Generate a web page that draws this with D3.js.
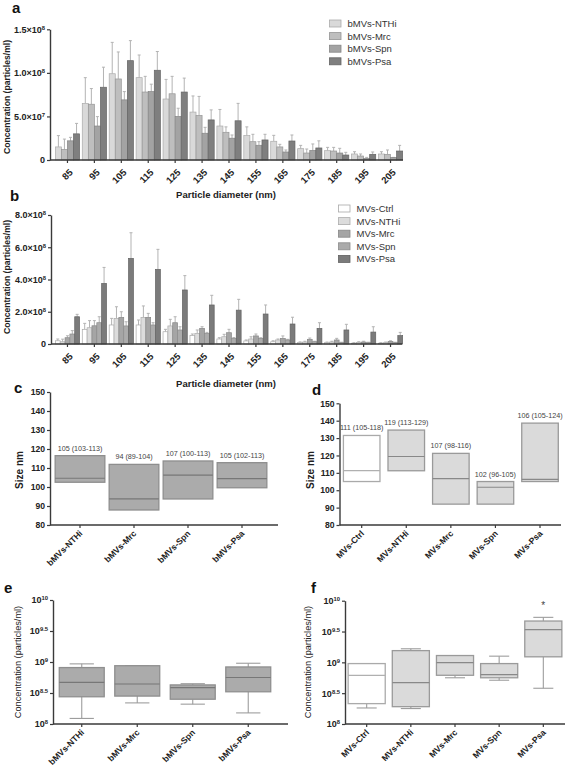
<!DOCTYPE html>
<html><head><meta charset="utf-8">
<script src="https://cdn.jsdelivr.net/npm/d3@7"></script>
<style>body{margin:0;background:#fff} text{font-family:"Liberation Sans",Arial,Helvetica,sans-serif}</style>
</head><body>
<svg id="chart" width="567" height="773"></svg>
<script>
// ---------- DATA ----------
const diameters = [85,95,105,115,125,135,145,155,165,175,185,195,205];

// panel a: bMVs concentration (x1e7 particles/ml), mean and SD
const aSeries = ["bMVs-NTHi","bMVs-Mrc","bMVs-Spn","bMVs-Psa"];
const aNTHi   = [1.5, 6.5, 9.9, 9.45, 7.0, 5.5, 3.9, 2.8, 2.15, 1.3, 1.07, 0.69, 0.69];
const aNTHiSD = [1.3, 2.95, 3.6, 2.6, 2.25, 1.85, 1.9, 1.0, 0.68, 0.38, 0.38, 0.26, 0.26];
const aMrc    = [1.2, 6.4, 9.3, 7.8, 7.6, 5.1, 3.18, 2.1, 1.5, 0.8, 1.03, 0.46, 0.65];
const aMrcSD  = [1.2, 1.8, 3.1, 1.8, 2.0, 2.2, 0.62, 0.85, 0.3, 0.46, 0.42, 0.23, 0.5];
const aSpn    = [2.2, 3.9, 6.9, 7.85, 5.0, 3.07, 2.5, 1.69, 0.92, 1.1, 0.8, 0.19, 0.3];
const aSpnSD  = [0.4, 1.08, 0.95, 0.85, 0.94, 0.68, 0.37, 0.41, 0.23, 0.74, 0.54, 0.11, 0];
const aPsa    = [3.0, 8.35, 11.4, 10.3, 7.8, 4.6, 4.5, 2.3, 2.18, 1.38, 0.57, 0.65, 1.03];
const aPsaSD  = [1.2, 2.3, 2.3, 2.15, 1.6, 1.15, 2.0, 0.65, 0.69, 0.82, 0.31, 0.27, 0.65];
const aYTicks = [0, 5e7, 1e8, 1.5e8];
const aYTickLabels = [["0",""],["5.0×10","7"],["1.0×10","8"],["1.5×10","8"]];

// panel b: MVs concentration (x1e7 particles/ml)
const bSeries = ["MVs-Ctrl","MVs-NTHi","MVs-Mrc","MVs-Spn","MVs-Psa"];
const bCtrl   = [2.0, 9.1, 11.8, 11.8, 7.6, 5.2, 3.1, 1.9, 1.4, 0.9, 0.8, 0.5, 0.5];
const bCtrlSD = [1.1, 3.7, 4.1, 3.1, 1.5, 1.0, 0.8, 0.6, 0.6, 0.4, 0.4, 0.3, 0.3];
const bNTHi   = [1.4, 10.1, 15.9, 16.5, 11.2, 6.6, 4.5, 3.1, 2.5, 1.2, 1.2, 1.0, 0.8];
const bNTHiSD = [1.6, 4.4, 7.2, 7.1, 4.1, 2.1, 1.5, 1.4, 0.6, 0.5, 0.5, 0.4, 0.4];
const bMrc    = [3.9, 11.3, 16.5, 16.5, 13.2, 9.7, 7.0, 5.0, 3.5, 2.9, 2.5, 1.2, 1.5];
const bMrcSD  = [1.2, 3.2, 3.5, 2.5, 3.7, 1.0, 2.1, 1.2, 1.5, 0.8, 1.0, 0.5, 0.5];
const bSpn    = [6.2, 13.2, 11.2, 11.8, 8.7, 6.6, 3.5, 3.5, 2.5, 1.4, 0.8, 0.8, 0.8];
const bSpnSD  = [2.1, 3.7, 2.6, 1.4, 2.0, 0.6, 0.5, 0.4, 0.4, 0.3, 0.3, 0.3, 0.3];
const bPsa    = [16.9, 37.6, 53.1, 46.3, 33.5, 24.2, 21.0, 18.6, 12.4, 9.7, 8.7, 7.4, 5.2];
const bPsaSD  = [1.5, 9.9, 15.9, 12.4, 8.9, 6.0, 6.7, 5.6, 4.2, 3.5, 3.5, 3.3, 2.0];
const bYTicks = [0, 2e8, 4e8, 6e8, 8e8];
const bYTickLabels = [["0",""],["2.0×10","8"],["4.0×10","8"],["6.0×10","8"],["8.0×10","8"]];

// panel c: size (nm) of bMVs, floating bars low/median/high
const cCats  = ["bMVs-NTHi","bMVs-Mrc","bMVs-Spn","bMVs-Psa"];
const cLow   = [102.5, 87.9, 93.7, 99.6];
const cMed   = [104.6, 93.7, 106.2, 104.4];
const cHigh  = [116.5, 111.9, 113.7, 112.8];
const cNotes = ["105 (103-113)","94 (89-104)","107 (100-113)","105 (102-113)"];

// panel d: size (nm) of MVs
const dCats  = ["MVs-Ctrl","MVs-NTHi","MVs-Mrc","MVs-Spn","MVs-Psa"];
const dLow   = [105, 111.2, 92, 92, 105];
const dMed   = [111.3, 119.4, 106.7, 101.7, 106.2];
const dHigh  = [131.5, 134.6, 121.2, 105, 138.6];
const dNotes = ["111 (105-118)","119 (113-129)","107 (98-116)","102 (96-105)","106 (105-124)"];
const sizeTicks = [80,90,100,110,120,130,140,150];

// panel e: concentration box plots bMVs
const eCats = ["bMVs-NTHi","bMVs-Mrc","bMVs-Spn","bMVs-Psa"];
const eMin  = [1.23e8, 2.19e8, 2.09e8, 1.51e8];
const eQ1   = [2.75e8, 2.82e8, 2.51e8, 3.31e8];
const eMed  = [4.68e8, 4.42e8, 3.85e8, 5.62e8];
const eQ3   = [8.13e8, 8.71e8, 4.27e8, 8.32e8];
const eMax  = [9.33e8, 8.71e8, 4.47e8, 9.55e8];

// panel f: concentration box plots MVs
const fCats = ["MVs-Ctrl","MVs-NTHi","MVs-Mrc","MVs-Spn","MVs-Psa"];
const fMin  = [1.82e8, 1.78e8, 5.62e8, 5.13e8, 3.80e8];
const fQ1   = [2.14e8, 1.91e8, 6.17e8, 5.62e8, 1.23e9];
const fMed  = [6.17e8, 4.68e8, 9.89e8, 6.31e8, 3.39e9];
const fQ3   = [9.55e8, 1.55e9, 1.29e9, 9.55e8, 4.68e9];
const fMax  = [9.55e8, 1.66e9, 1.29e9, 1.26e9, 5.37e9];
const fStar = {cat:"MVs-Psa", value:8.6e9, text:"*"};

const logTicks = [1e8, Math.pow(10,8.5), 1e9, Math.pow(10,9.5), 1e10];
const logTickLabels = [["10","8"],["10","8.5"],["10","9"],["10","9.5"],["10","10"]];

// ---------- DRAWING ----------
const svg = d3.select("#chart");
const AX = "#3a3a3a";

function styleAxis(g){
  g.attr("font-family",null).attr("font-size",null);
  g.select(".domain").attr("stroke",AX).attr("stroke-width",1.4);
  g.selectAll(".tick line").attr("stroke",AX).attr("stroke-width",1.2);
  g.selectAll("text").attr("fill","#222");
}
function supText(sel, labels, size){
  sel.each(function(d,i){
    const t = d3.select(this).text("").attr("font-size",size).attr("font-weight","bold");
    t.append("tspan").text(labels[i][0]);
    if(labels[i][1]) t.append("tspan").attr("dy","-0.5em").attr("font-size",size*0.65).text(labels[i][1]);
  });
}
function yTitle(x,y,text,bold,size){
  svg.append("text").attr("transform",`translate(${x},${y}) rotate(-90)`)
    .attr("text-anchor","middle").attr("dy","0.35em").attr("font-size",size)
    .attr("font-weight",bold?"bold":"normal").attr("fill","#222").text(text);
}
function letter(x,y,t){
  svg.append("text").attr("x",x).attr("y",y).attr("font-size",15).attr("font-weight","bold").attr("fill","#111").text(t);
}
function catAxis(g, x, y0, x0, x1, size){
  const xa = g.append("g").attr("transform",`translate(0,${y0})`)
    .call(d3.axisBottom(x).tickSize(3).tickSizeOuter(0));
  styleAxis(xa);
  xa.select(".domain").remove();
  g.append("line").attr("x1",x0).attr("x2",x1).attr("y1",y0).attr("y2",y0).attr("stroke",AX).attr("stroke-width",1.4);
  xa.selectAll("text").attr("y",0).attr("dy",0).attr("transform","translate(3,9) rotate(-45)")
    .attr("text-anchor","end").attr("font-size",size).attr("font-weight","bold");
  return xa;
}

function barPanel(cfg){
  const g = svg.append("g");
  const y = d3.scaleLinear().domain([0,cfg.ymax]).range([cfg.yBase,cfg.yTop]);
  const xg = d3.scaleBand().domain(diameters).range(cfg.band).paddingInner(0.1).paddingOuter(0.05);
  const xs = d3.scaleBand().domain(cfg.series).range([0,xg.bandwidth()]);
  const bw = xs.bandwidth();
  cfg.series.forEach((s,si)=>{
    const vals = cfg.values[si], sds = cfg.sds[si];
    const gg = g.append("g");
    gg.selectAll("line.err").data(diameters).join("line").attr("class","err")
      .attr("x1",(d)=>xg(d)+xs(s)+bw/2).attr("x2",(d)=>xg(d)+xs(s)+bw/2)
      .attr("y1",(d,i)=>y(vals[i]*cfg.unit)).attr("y2",(d,i)=>y((vals[i]+sds[i])*cfg.unit))
      .attr("stroke","#b3b3b3").attr("stroke-width",1);
    gg.selectAll("line.cap").data(diameters).join("line").attr("class","cap")
      .attr("x1",(d)=>xg(d)+xs(s)+bw/2-1.5).attr("x2",(d)=>xg(d)+xs(s)+bw/2+1.5)
      .attr("y1",(d,i)=>y((vals[i]+sds[i])*cfg.unit)).attr("y2",(d,i)=>y((vals[i]+sds[i])*cfg.unit))
      .attr("stroke","#b3b3b3").attr("stroke-width",1);
    gg.selectAll("rect").data(diameters).join("rect")
      .attr("x",(d)=>xg(d)+xs(s)).attr("width",bw)
      .attr("y",(d,i)=>y(vals[i]*cfg.unit)).attr("height",(d,i)=>cfg.yBase - y(vals[i]*cfg.unit))
      .attr("fill",cfg.fills[si]).attr("stroke",cfg.strokes[si]).attr("stroke-width",0.7);
  });
  // y axis
  const ya = g.append("g").attr("transform",`translate(${cfg.axisX0},0)`)
    .call(d3.axisLeft(y).tickValues(cfg.yTicks).tickSize(3).tickSizeOuter(0).tickPadding(2));
  styleAxis(ya);
  supText(ya.selectAll(".tick text"), cfg.yTickLabels, 9);
  // x axis
  const xa = g.append("g").attr("transform",`translate(0,${cfg.yBase})`)
    .call(d3.axisBottom(xg).tickSize(3).tickSizeOuter(0));
  styleAxis(xa);
  xa.select(".domain").remove();
  g.append("line").attr("x1",cfg.axisX0).attr("x2",cfg.axisX1).attr("y1",cfg.yBase).attr("y2",cfg.yBase).attr("stroke",AX).attr("stroke-width",1.4);
  xa.selectAll("text").attr("y",0).attr("dy",0).attr("transform","translate(6,13) rotate(-45)")
    .attr("text-anchor","end").attr("font-size",9.5).attr("font-weight","bold");
  g.append("text").attr("x",cfg.xTitleX).attr("y",cfg.xTitleY).attr("text-anchor","middle")
    .attr("font-size",9.5).attr("font-weight","bold").attr("fill","#222").text("Particle diameter (nm)");
  // legend
  cfg.series.forEach((s,si)=>{
    const cy = cfg.legY + si*cfg.legStep;
    g.append("rect").attr("x",cfg.legX).attr("y",cy-3.5).attr("width",11.5).attr("height",7)
      .attr("fill",cfg.fills[si]).attr("stroke",cfg.strokes[si]).attr("stroke-width",0.8);
    g.append("text").attr("x",cfg.legX+18).attr("y",cy+3.4).attr("font-size",9.5).attr("fill","#333").text(s);
  });
}

barPanel({
  series:aSeries, values:[aNTHi,aMrc,aSpn,aPsa], sds:[aNTHiSD,aMrcSD,aSpnSD,aPsaSD], unit:1e7,
  ymax:1.5e8, yTop:29.3, yBase:160, band:[54,404], axisX0:50, axisX1:403,
  fills:["#d9d9d9","#bebebe","#a3a3a3","#7f7f7f"], strokes:["#ababab","#959595","#858585","#646464"],
  yTicks:aYTicks, yTickLabels:aYTickLabels, xTitleX:226, xTitleY:198,
  legX:329.5, legY:23.5, legStep:12.6
});
barPanel({
  series:bSeries, values:[bCtrl,bNTHi,bMrc,bSpn,bPsa], sds:[bCtrlSD,bNTHiSD,bMrcSD,bSpnSD,bPsaSD], unit:1e7,
  ymax:8e8, yTop:215, yBase:344, band:[54,404], axisX0:51, axisX1:402,
  fills:["#ffffff","#dcdcdc","#a5a5a5","#ababab","#7b7b7b"], strokes:["#a9a9a9","#acacac","#878787","#8c8c8c","#626262"],
  yTicks:bYTicks, yTickLabels:bYTickLabels, xTitleX:226, xTitleY:387,
  legX:338.5, legY:208.5, legStep:12.6
});
letter(12,13,"a");
letter(10,201,"b");
yTitle(7,97,"Concentration (particles/ml)",true,8.6);
yTitle(7,277,"Concentration (particles/ml)",true,8.6);

// floating bar panels (c, d)
function floatPanel(cfg){
  const g = svg.append("g");
  const y = d3.scaleLinear().domain([80,150]).range([525,cfg.yTop]);
  const x = d3.scaleBand().domain(cfg.cats).range(cfg.band).paddingInner(cfg.pad).paddingOuter(cfg.pad/2);
  cfg.cats.forEach((c,i)=>{
    const fill = cfg.fills[i], stroke = cfg.strokes[i];
    g.append("rect").attr("x",x(c)).attr("width",x.bandwidth())
      .attr("y",y(cfg.high[i])).attr("height",y(cfg.low[i])-y(cfg.high[i]))
      .attr("fill",fill).attr("stroke",stroke).attr("stroke-width",1.3);
    g.append("line").attr("x1",x(c)).attr("x2",x(c)+x.bandwidth())
      .attr("y1",y(cfg.med[i])).attr("y2",y(cfg.med[i])).attr("stroke",cfg.medC[i]).attr("stroke-width",1.2);
    g.append("text").attr("x",x(c)+x.bandwidth()/2).attr("y",y(cfg.high[i])-5).attr("text-anchor","middle")
      .attr("font-size",7.2).attr("fill","#444").text(cfg.notes[i]);
  });
  const ya = g.append("g").attr("transform",`translate(${cfg.axisX0},0)`)
    .call(d3.axisLeft(y).tickValues(sizeTicks).tickSize(3).tickSizeOuter(0).tickPadding(2));
  styleAxis(ya);
  ya.selectAll("text").attr("font-size",8.6).attr("font-weight","bold");
  catAxis(g, x, 525, cfg.axisX0, cfg.axisX1, 8.6);
}
floatPanel({cats:cCats, low:cLow, med:cMed, high:cHigh, notes:cNotes, yTop:392, band:[53,269], pad:0.08,
  axisX0:50, axisX1:278, fills:cCats.map(()=>"#ababab"), strokes:cCats.map(()=>"#8e8e8e"), medC:cCats.map(()=>"#777")});
floatPanel({cats:dCats, low:dLow, med:dMed, high:dHigh, notes:dNotes, yTop:403.3, band:[339.4,562.3], pad:0.18,
  axisX0:339.5, axisX1:561, fills:["#ffffff","#dadada","#dadada","#dadada","#dadada"],
  strokes:["#aaaaaa","#9a9a9a","#9a9a9a","#9a9a9a","#9a9a9a"], medC:["#b0b0b0","#888","#888","#888","#888"]});
letter(14,393,"c");
letter(312,395,"d");
yTitle(19,470,"Size nm",true,10);
yTitle(310,470,"Size nm",true,10);

// box plot panels (e, f)
function boxPanel(cfg){
  const g = svg.append("g");
  const y = d3.scaleLog().domain([1e8,1e10]).range([724,cfg.yTop]);
  const x = d3.scaleBand().domain(cfg.cats).range(cfg.band).paddingInner(cfg.pad).paddingOuter(cfg.pad/2);
  const bw = x.bandwidth();
  cfg.cats.forEach((c,i)=>{
    const cx = x(c)+bw/2, cw = bw*0.27;
    const wc = "#9d9d9d";
    [[cfg.min[i],cfg.q1[i]],[cfg.q3[i],cfg.max[i]]].forEach(([a,b])=>{
      g.append("line").attr("x1",cx).attr("x2",cx).attr("y1",y(a)).attr("y2",y(b)).attr("stroke",wc).attr("stroke-width",1.1);
    });
    [cfg.min[i],cfg.max[i]].forEach(v=>{
      g.append("line").attr("x1",cx-cw).attr("x2",cx+cw).attr("y1",y(v)).attr("y2",y(v)).attr("stroke",wc).attr("stroke-width",1.1);
    });
    g.append("rect").attr("x",x(c)).attr("width",bw).attr("y",y(cfg.q3[i])).attr("height",y(cfg.q1[i])-y(cfg.q3[i]))
      .attr("fill",cfg.fills[i]).attr("stroke",cfg.strokes[i]).attr("stroke-width",1.3);
    g.append("line").attr("x1",x(c)).attr("x2",x(c)+bw).attr("y1",y(cfg.med[i])).attr("y2",y(cfg.med[i]))
      .attr("stroke",cfg.medC[i]).attr("stroke-width",1.2);
  });
  if(cfg.star){
    g.append("text").attr("x",x(cfg.star.cat)+bw/2).attr("y",y(cfg.star.value)+4).attr("text-anchor","middle")
      .attr("font-size",10).attr("fill","#444").text(cfg.star.text);
  }
  const ya = g.append("g").attr("transform",`translate(${cfg.axisX0},0)`)
    .call(d3.axisLeft(y).tickValues(logTicks).tickSize(3).tickSizeOuter(0).tickPadding(2));
  styleAxis(ya);
  supText(ya.selectAll(".tick text"), logTickLabels, 9);
  catAxis(g, x, 724, cfg.axisX0, cfg.axisX1, 8.6);
}
boxPanel({cats:eCats, min:eMin, q1:eQ1, med:eMed, q3:eQ3, max:eMax, yTop:600, band:[54,276], pad:0.19,
  axisX0:53, axisX1:288, fills:eCats.map(()=>"#ababab"), strokes:eCats.map(()=>"#8f8f8f"), medC:eCats.map(()=>"#777")});
boxPanel({cats:fCats, min:fMin, q1:fQ1, med:fMed, q3:fQ3, max:fMax, yTop:600.7, band:[344.6,565.4], pad:0.16,
  axisX0:345, axisX1:565, star:fStar, fills:["#ffffff","#dadada","#dadada","#dadada","#dadada"],
  strokes:["#aaaaaa","#9a9a9a","#9a9a9a","#9a9a9a","#9a9a9a"], medC:["#b0b0b0","#888","#888","#888","#888"]});
letter(4,593,"e");
letter(311,593,"f");
yTitle(18,662,"Concentration (particles/ml)",false,9.2);
yTitle(308,662,"Concentration (particles/ml)",false,9.2);
</script>
</body></html>
